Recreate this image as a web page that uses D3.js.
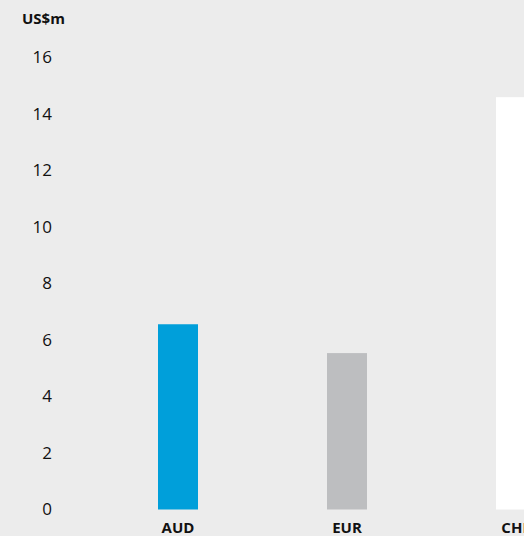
<!DOCTYPE html>
<html>
<head>
<meta charset="utf-8">
<script src="https://d3js.org/d3.v7.min.js"></script>
<style>
  html, body { margin: 0; padding: 0; background: #ececec; }
  svg { display: block; }
  .tick text { font-family: "Open Sans", sans-serif; fill: #111; }
</style>
</head>
<body>
<svg width="524" height="536"></svg>
<script>
// data
const currencies = ["AUD", "EUR", "CHF"];
const amounts = [6.55, 5.53, 14.58];
const barColors = ["#009fda", "#bdbec0", "#ffffff"];
const yTicks = [0, 2, 4, 6, 8, 10, 12, 14, 16];

const svg = d3.select("svg");

svg.append("rect").attr("width", 524).attr("height", 536).attr("fill", "#ececec");

var y = d3.scaleLinear().domain([0, 16]).range([509.5, 57]);
var x = d3.scaleBand().domain(currencies).range([93.5, 93.5 + 3 * 169]).padding(0);
var barW = 40;

// bars
svg.append("g").selectAll("rect").data(currencies).enter().append("rect")
  .attr("x", d => x(d) + (x.bandwidth() - barW) / 2)
  .attr("y", (d, i) => y(amounts[i]))
  .attr("width", barW)
  .attr("height", (d, i) => y(0) - y(amounts[i]))
  .attr("fill", (d, i) => barColors[i]);

// y axis labels
var yAxis = svg.append("g").attr("transform", "translate(55,0)")
  .call(d3.axisLeft(y).tickValues(yTicks).tickSize(0).tickPadding(3));
yAxis.select(".domain").remove();
yAxis.selectAll("text").style("font-size", "17px");

// x axis labels (the last one runs off the right edge, as in the original)
var xAxis = svg.append("g").attr("transform", "translate(0," + y(0) + ")")
  .call(d3.axisBottom(x).tickSize(0).tickPadding(13));
xAxis.select(".domain").remove();
xAxis.selectAll("text").style("font-size", "15px").style("font-weight", "bold");

// unit label
svg.append("text")
  .attr("x", 22).attr("y", 24)
  .style("font-family", "Open Sans, sans-serif")
  .style("font-size", "15px")
  .style("font-weight", "bold")
  .attr("fill", "#111")
  .text("US$m");
</script>
</body>
</html>
